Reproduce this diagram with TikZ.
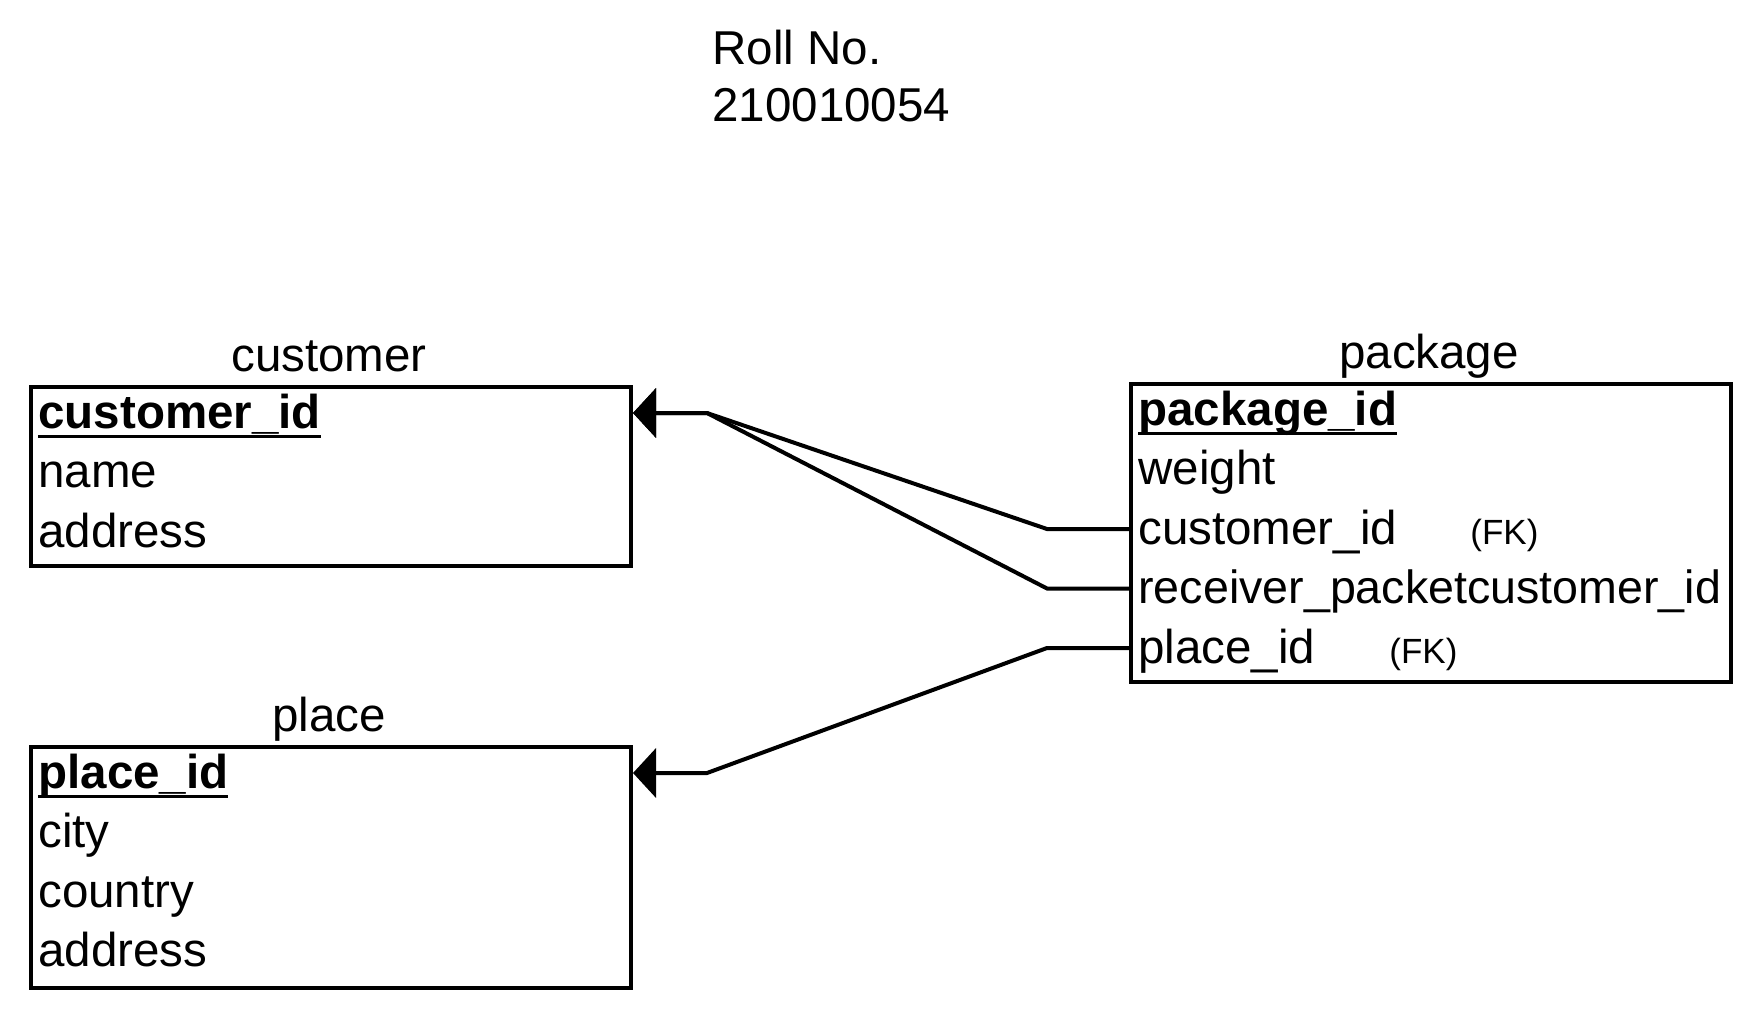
\documentclass[tikz,border=0pt]{standalone}
\usepackage{fontspec}
\setmainfont{Liberation Sans}
\usetikzlibrary{arrows.meta}

% bold, underlined key field
\newcommand{\keyfield}[1]{\textbf{\setbox0\hbox{#1}\rlap{\rule[-4.75pt]{\wd0}{1.5pt}}\box0}}

\begin{document}
\begin{tikzpicture}[x=0.5pt, y=-0.5pt, >={Triangle[length=11.5pt, width=24.5pt]},
    tbl/.style={draw, line width=2pt, minimum width=300pt, anchor=north west, inner sep=0},
    fld/.style={anchor=west, inner sep=0, text height=20.2pt, text depth=5.2pt, font=\fontsize{23.75}{28}\selectfont},
    ttl/.style={anchor=base, inner sep=0, font=\fontsize{23.75}{28}\selectfont},
    fk/.style={anchor=base west, inner sep=0, font=\fontsize{17.5}{21}\selectfont},
    link/.style={line width=2pt, ->}]
    \useasboundingbox (0,0) rectangle (1756,1011);

    \node[ttl, anchor=base west] (roll) at (712,65) {Roll No.};
    \node[ttl, anchor=base west] (rollnum) at (712,122) {210010054};

    % customer
    \node[tbl, minimum height=89.5pt] (customer) at (29,385) {};
    \node[ttl] (customer-t) at (329,371) {customer};
    \node[fld] (c-id) at (38,413) {\keyfield{customer\_id}};
    \node[fld] (c-name) at (38,472.5) {name};
    \node[fld] (c-addr) at (38,532) {address};

    % place
    \node[tbl, minimum height=120.5pt] (place) at (29,745) {};
    \node[ttl] (place-t) at (329,731) {place};
    \node[fld] (p-id) at (38,773) {\keyfield{place\_id}};
    \node[fld] (p-city) at (38,832.5) {city};
    \node[fld] (p-country) at (38,892) {country};
    \node[fld] (p-addr) at (38,951.5) {address};

    % package
    \node[tbl, minimum height=149pt] (package) at (1129,382) {};
    \node[ttl] (package-t) at (1429,368) {package};
    \node[fld] (k-id) at (1138,410) {\keyfield{package\_id}};
    \node[fld] (k-weight) at (1138,469.5) {weight};
    \node[fld] (k-cust) at (1138,529) {customer\_id};
    \node[fld, font=\fontsize{23.3}{28}\selectfont] (k-recv) at (1138,588.5) {receiver\_packetcustomer\_id};
    \node[fld] (k-place) at (1138,648) {place\_id};
    \node[fk] (k-cust-fk) at (1470,544) {(FK)};
    \node[fk] (k-place-fk) at (1389,663) {(FK)};

    \coordinate (c-bend) at (707,413);
    \coordinate (p-bend) at (707,773);

    \draw[link] (k-cust.west -| package.west) -- ++(-82,0) -- (c-bend) -- (c-bend -| customer.east);
    \draw[link] (k-recv.west -| package.west) -- ++(-82,0) -- (c-bend) -- (c-bend -| customer.east);
    \draw[link] (k-place.west -| package.west) -- ++(-82,0) -- (p-bend) -- (p-bend -| place.east);
\end{tikzpicture}
\end{document}
